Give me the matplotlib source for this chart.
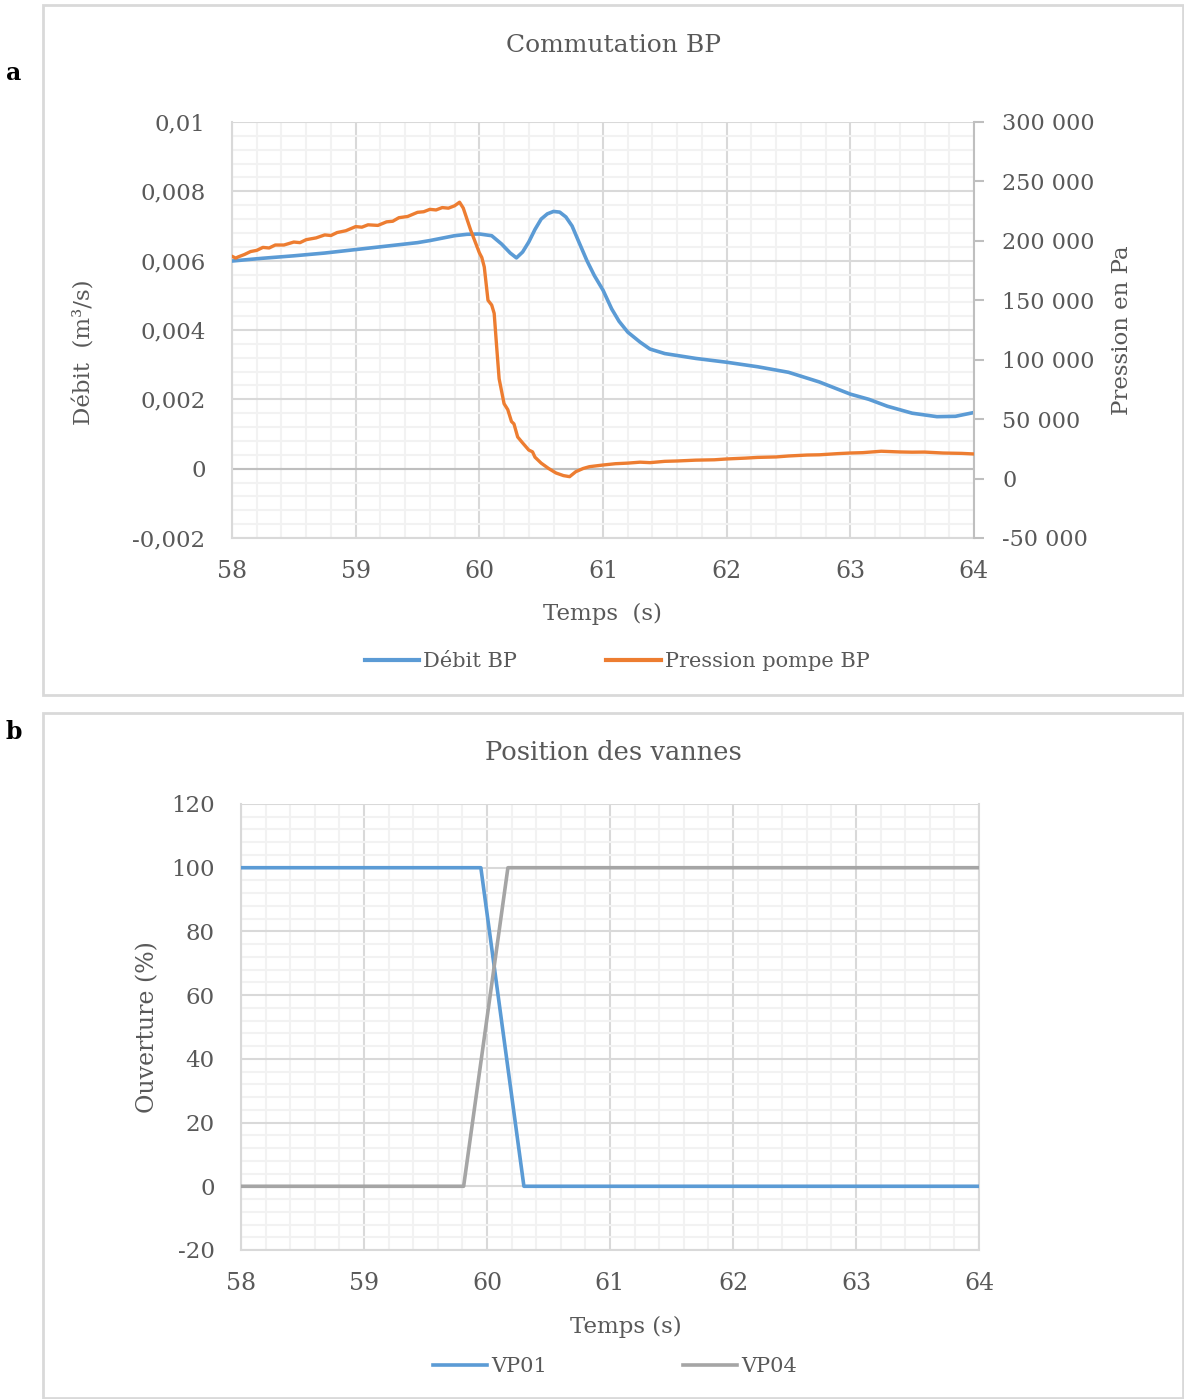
import matplotlib
matplotlib.use("Agg")
import matplotlib.pyplot as plt
from matplotlib.patches import Rectangle
from matplotlib.ticker import MultipleLocator, FuncFormatter

# ---- panel a: Commutation BP ----
t_flow = [58.0, 58.25, 58.5, 58.75, 59.0, 59.25, 59.5, 59.6, 59.8, 59.9, 60.0,
          60.1, 60.18, 60.25, 60.3, 60.35, 60.4, 60.45, 60.5, 60.55, 60.6, 60.65,
          60.7, 60.75, 60.8, 60.87, 60.93, 61.0, 61.07, 61.13, 61.2, 61.3, 61.38,
          61.5, 61.75, 62.0, 62.25, 62.5, 62.75, 63.0, 63.15, 63.3, 63.5, 63.7,
          63.85, 64.0]
flow = [0.00599, 0.00607, 0.00614, 0.00622, 0.00632, 0.00642, 0.00652, 0.00658,
        0.00672, 0.00676, 0.00677, 0.00672, 0.00648, 0.00622, 0.00608, 0.00625,
        0.00654, 0.00690, 0.00720, 0.00735, 0.00742, 0.00740, 0.00726, 0.00700,
        0.00658, 0.00600, 0.00557, 0.00515, 0.00461, 0.00425, 0.00394, 0.00365,
        0.00345, 0.00332, 0.00318, 0.00307, 0.00294, 0.00278, 0.00250, 0.00215,
        0.00200, 0.00180, 0.00160, 0.00150, 0.00151, 0.00162]

t_press = [58.0, 58.03, 58.05, 58.1, 58.15, 58.2, 58.25, 58.3, 58.35, 58.42, 58.5,
           58.55, 58.6, 58.68, 58.75, 58.8, 58.85, 58.92, 59.0, 59.05, 59.1, 59.18,
           59.25, 59.3, 59.35, 59.42, 59.5, 59.55, 59.6, 59.65, 59.7, 59.75, 59.8,
           59.84, 59.87, 59.93, 60.0, 60.02, 60.04, 60.07, 60.1, 60.12, 60.14, 60.16,
           60.2, 60.23, 60.26, 60.28, 60.31, 60.35, 60.4, 60.43, 60.45, 60.5, 60.56,
           60.62, 60.68, 60.73, 60.78, 60.84, 60.89, 61.0, 61.1, 61.2, 61.3, 61.38,
           61.5, 61.6, 61.75, 61.9, 62.0, 62.15, 62.25, 62.4, 62.5, 62.65, 62.75,
           62.9, 63.0, 63.1, 63.25, 63.4, 63.5, 63.6, 63.75, 63.9, 64.0]
press = [187000, 185500, 186500, 188500, 191000, 192000, 194500, 194000, 196500,
         196500, 199000, 198500, 201000, 202500, 205000, 204500, 207000, 208500,
         212000, 211500, 213500, 213000, 216000, 216500, 219500, 220500, 224000,
         224500, 226500, 226000, 228000, 227500, 229500, 232500, 227600, 209000,
         190000, 186000, 178000, 150000, 146000, 139000, 111000, 84000, 63000,
         58000, 48000, 46000, 35000, 30000, 24000, 22500, 18000, 13000, 8500,
         4700, 2500, 1600, 5800, 8500, 10000, 11400, 12500, 13000, 13800, 13400,
         14500, 14800, 15500, 15800, 16500, 17200, 17800, 18200, 19000, 19800,
         20000, 21000, 21500, 21800, 23000, 22400, 22200, 22300, 21500, 21200,
         20700]

# ---- panel b: Position des vannes ----
t_vp01 = [58.0, 59.95, 60.30, 64.0]
vp01 = [100, 100, 0, 0]
t_vp04 = [58.0, 59.81, 60.17, 64.0]
vp04 = [0, 0, 100, 100]

BLUE = "#5b9bd5"
ORANGE = "#ed7d31"
GREY = "#a5a5a5"
TEXT = "#595959"
MAJOR = "#d9d9d9"
MINOR = "#f2f2f2"
SERIF = "DejaVu Serif"

W, H = 1184, 1399
plt.rcParams["font.family"] = SERIF
plt.rcParams["text.color"] = TEXT
plt.rcParams["axes.unicode_minus"] = False
fig = plt.figure(figsize=(W / 100, H / 100), dpi=100)


def px_rect(x0, y0, x1, y1):
    return [x0 / W, 1 - y1 / H, (x1 - x0) / W, (y1 - y0) / H]


def style_grid(ax, xminor, yminor, ymajor):
    ax.set_xlim(58, 64)
    ax.xaxis.set_major_locator(MultipleLocator(1))
    ax.xaxis.set_minor_locator(MultipleLocator(xminor))
    ax.yaxis.set_major_locator(MultipleLocator(ymajor))
    ax.yaxis.set_minor_locator(MultipleLocator(yminor))
    ax.grid(which="minor", color=MINOR, linewidth=1.5, zorder=0)
    ax.grid(which="major", color=MAJOR, linewidth=1.5, zorder=0)
    ax.set_axisbelow(True)
    for side in ["top", "right"]:
        ax.spines[side].set_visible(False)
    for side in ["left", "bottom"]:
        ax.spines[side].set_color(MAJOR)
        ax.spines[side].set_linewidth(1.5)
    ax.tick_params(which="both", length=0, labelcolor=TEXT)
    ax.tick_params(axis="x", pad=16, labelsize=17)
    ax.tick_params(axis="y", pad=19, labelsize=16.5)


# panel borders and letters
for y0, y1 in [(5, 695), (713, 1398)]:
    fig.patches.append(Rectangle((43 / W, 1 - y1 / H), 1140 / W, (y1 - y0) / H,
                                 transform=fig.transFigure, fill=False,
                                 edgecolor="#d9d9d9", linewidth=2))
fig.text(6 / W, 1 - 73 / H, "a", fontsize=17, fontweight="bold", color="black",
         ha="left", va="center")
fig.text(6 / W, 1 - 732 / H, "b", fontsize=17, fontweight="bold", color="black",
         ha="left", va="center")

# ---- panel a ----
ax1 = fig.add_axes(px_rect(232, 122, 974, 538))
style_grid(ax1, 0.2, 0.0004, 0.002)
ax1.set_ylim(-0.002, 0.01)
ax1.axhline(0, color="#bfbfbf", linewidth=1.5, zorder=1)
ax1.yaxis.set_major_formatter(FuncFormatter(lambda v, _: f"{v:g}".replace(".", ",")
                                            if abs(v) > 1e-12 else "0"))
ax1.plot(t_flow, flow, color=BLUE, linewidth=2.6, zorder=3)

ax2 = ax1.twinx()
ax2.set_ylim(-50000, 300000)
ax2.yaxis.set_major_locator(MultipleLocator(50000))
ax2.yaxis.set_major_formatter(FuncFormatter(lambda v, _: f"{v:,.0f}".replace(",", " ")))
for side in ["top", "left", "bottom"]:
    ax2.spines[side].set_visible(False)
ax2.spines["right"].set_color("#bfbfbf")
ax2.spines["right"].set_linewidth(1.5)
ax2.tick_params(axis="y", length=7, width=1.5, color="#bfbfbf", labelsize=16,
                labelcolor=TEXT, pad=13.5)
ax2.plot(t_press, press, color=ORANGE, linewidth=2.4, zorder=3)

fig.text(613 / W, 1 - 45 / H, "Commutation BP", fontsize=18, ha="center", va="center")
fig.text(84 / W, 1 - 352 / H, "Débit  (m³/s)", fontsize=16.5, rotation=90,
         ha="center", va="center")
fig.text(1122 / W, 1 - 330 / H, "Pression en Pa", fontsize=16.5, rotation=90,
         ha="center", va="center")
fig.text(602 / W, 1 - 614 / H, "Temps  (s)", fontsize=16.5, ha="center", va="center")

h1, = ax1.plot([], [], color=BLUE, linewidth=3, label="Débit BP")
h2, = ax2.plot([], [], color=ORANGE, linewidth=3, label="Pression pompe BP")
fig.legend(handles=[h1, h2], loc="center", bbox_to_anchor=(617 / W, 1 - 662 / H),
           ncol=2, frameon=False, fontsize=15, handlelength=2.6, handletextpad=0.2,
           columnspacing=4.3, labelcolor=TEXT)

# ---- panel b ----
ax3 = fig.add_axes(px_rect(241, 804, 979, 1250))
style_grid(ax3, 0.2, 4, 20)
ax3.set_ylim(-20, 120)
ax3.spines["right"].set_visible(True)
ax3.spines["right"].set_color(MAJOR)
ax3.spines["right"].set_linewidth(1.5)
ax3.plot(t_vp01, vp01, color=BLUE, linewidth=2.6, zorder=3, label="VP01")
ax3.plot(t_vp04, vp04, color=GREY, linewidth=2.6, zorder=3, label="VP04")

fig.text(613 / W, 1 - 753 / H, "Position des vannes", fontsize=18.5, ha="center",
         va="center")
fig.text(148 / W, 1 - 1027 / H, "Ouverture (%)", fontsize=17, rotation=90,
         ha="center", va="center")
fig.text(626 / W, 1 - 1327 / H, "Temps (s)", fontsize=16.5, ha="center", va="center")
fig.legend(handles=ax3.get_lines(), loc="center", bbox_to_anchor=(615 / W, 1 - 1367 / H),
           ncol=2, frameon=False, fontsize=15, handlelength=2.6, handletextpad=0.2,
           columnspacing=6.5, labelcolor=TEXT)

fig.savefig("out.png", dpi=100)
